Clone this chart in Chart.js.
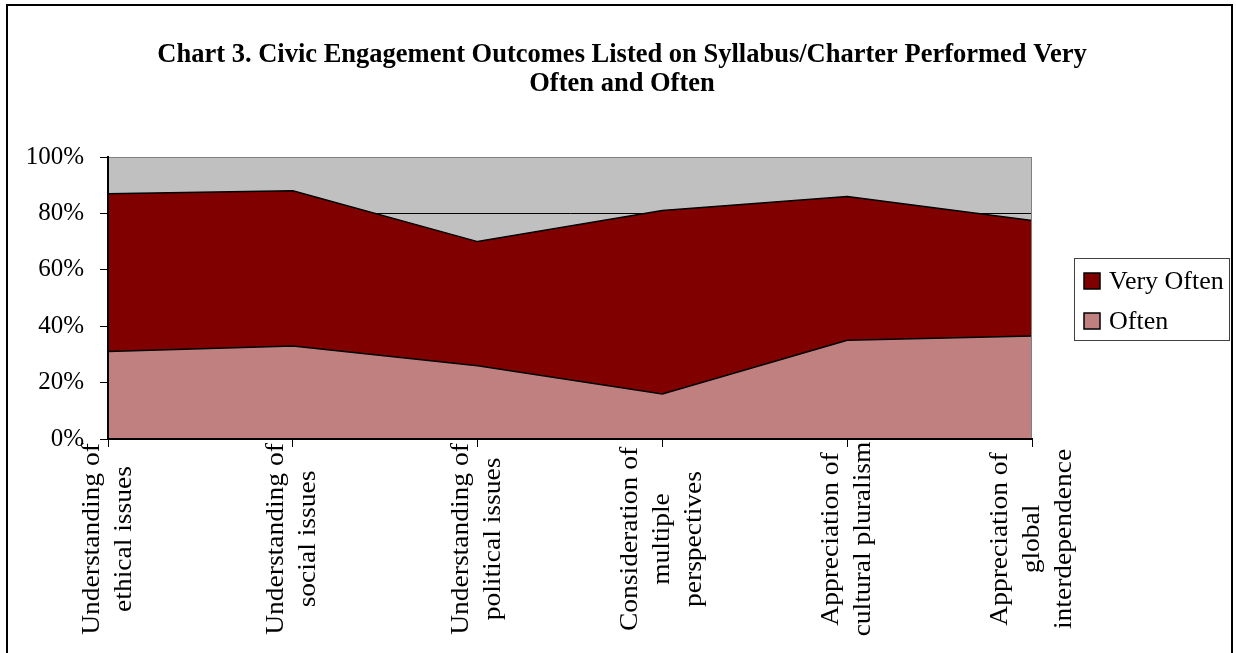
<!DOCTYPE html>
<html>
<head>
<meta charset="utf-8">
<script src="https://cdn.jsdelivr.net/npm/chart.js@4.4.1/dist/chart.umd.min.js"></script>
<style>
  html, body { margin: 0; padding: 0; background: #fff; overflow: hidden; }
  #wrap { width: 1236px; height: 653px; position: relative; }
</style>
</head>
<body>
<div id="wrap"><canvas id="chart"></canvas></div>
<script>
// chart data
const categories = [
    ['Understanding of', 'ethical issues'],
    ['Understanding of', 'social issues'],
    ['Understanding of', 'political issues'],
    ['Consideration of', 'multiple', 'perspectives'],
    ['Appreciation of', 'cultural pluralism'],
    ['Appreciation of', 'global', 'interdependence']
];
const often = [31, 33, 26, 16, 35, 36.5];
const veryOften = [56, 55, 44, 65, 51, 41];
const yTicks = [0, 20, 40, 60, 80, 100];
const titleLines = [
    'Chart 3. Civic Engagement Outcomes Listed on Syllabus/Charter Performed Very',
    'Often and Often'
];

const FONT = '"Liberation Serif", "Times New Roman", serif';

const decor = {
    id: 'decor',
    beforeDraw(chart) {
        const { ctx, chartArea: a } = chart;
        ctx.save();
        ctx.fillStyle = '#fff';
        ctx.fillRect(0, 0, chart.width, chart.height);
        ctx.fillStyle = '#C0C0C0';
        ctx.fillRect(a.left, a.top, a.right - a.left, a.bottom - a.top);
        ctx.restore();
    },
    afterDatasetsDraw(chart) {
        const { ctx, chartArea: a } = chart;
        ctx.save();
        ctx.strokeStyle = '#808080';
        ctx.lineWidth = 1;
        ctx.strokeRect(a.left + 0.5, a.top + 0.5, a.right - a.left - 1, a.bottom - a.top);
        ctx.restore();
    },
    afterDraw(chart) {
        const { ctx } = chart;
        const x = chart.scales.x;
        ctx.save();

        // title
        ctx.fillStyle = '#000';
        ctx.font = 'bold 26.5px ' + FONT;
        ctx.textAlign = 'center';
        ctx.textBaseline = 'middle';
        ctx.fillText(titleLines[0], 622, 55);
        ctx.fillText(titleLines[1], 622, 84);

        // category labels, rotated and centred on their ticks
        ctx.font = '25px ' + FONT;
        const lh = 32;
        categories.forEach((lines, i) => {
            const px = x.getPixelForValue(i);
            ctx.save();
            ctx.translate(px, 539);
            ctx.rotate(-Math.PI / 2);
            ctx.scale(1.1, 1);
            lines.forEach((line, j) => {
                ctx.fillText(line, 0, (j - (lines.length - 1) / 2) * lh);
            });
            ctx.restore();
        });

        // legend, Very Often on top
        const items = chart.data.datasets.slice().reverse();
        ctx.strokeStyle = '#404040';
        ctx.lineWidth = 1;
        ctx.strokeRect(1074.5, 258.5, 155, 82);
        ctx.textAlign = 'left';
        ctx.font = '26px ' + FONT;
        items.forEach((ds, i) => {
            const cy = 281 + i * 40;
            ctx.fillStyle = ds.backgroundColor;
            ctx.fillRect(1084, cy - 8, 16, 16);
            ctx.strokeStyle = '#000';
            ctx.lineWidth = 1.5;
            ctx.strokeRect(1084, cy - 8, 16, 16);
            ctx.fillStyle = '#000';
            ctx.fillText(ds.label, 1109, cy + 1);
        });

        // outer frame
        ctx.strokeStyle = '#000';
        ctx.lineWidth = 2;
        ctx.strokeRect(7, 5, 1225, 700);
        ctx.restore();
    }
};

new Chart(document.getElementById('chart'), {
    type: 'line',
    data: {
        labels: categories,
        datasets: [{
            label: 'Often',
            data: often,
            backgroundColor: '#C08080',
            borderColor: '#000',
            borderWidth: 1.5,
            fill: 'origin',
            pointRadius: 0,
            tension: 0
        }, {
            label: 'Very Often',
            data: veryOften,
            backgroundColor: '#800000',
            borderColor: '#000',
            borderWidth: 1.5,
            fill: '-1',
            pointRadius: 0,
            tension: 0
        }]
    },
    options: {
        responsive: true,
        maintainAspectRatio: false,
        animation: false,
        layout: {
            padding: { left: 0, right: 204, top: 157, bottom: 206 }
        },
        plugins: {
            legend: { display: false },
            title: { display: false },
            tooltip: { enabled: false }
        },
        scales: {
            x: {
                offset: false,
                ticks: { display: false },
                grid: {
                    drawOnChartArea: false,
                    drawTicks: true,
                    tickLength: 8,
                    color: '#000'
                },
                border: { display: true, color: '#000', width: 2, z: 1 }
            },
            y: {
                stacked: true,
                min: 0,
                max: 100,
                afterFit(scale) { scale.width = 108; },
                afterBuildTicks(scale) {
                    scale.ticks = yTicks.map(v => ({ value: v }));
                },
                ticks: {
                    padding: 16,
                    color: '#000',
                    font: { family: FONT, size: 25 },
                    callback: v => v + '%'
                },
                grid: {
                    color: ctx => (ctx.tick && ctx.tick.value === 100) ? '#808080' : '#000',
                    tickColor: '#000',
                    tickLength: 8,
                    lineWidth: 1
                },
                border: { display: true, color: '#000', width: 2, z: 1 }
            }
        }
    },
    plugins: [decor]
});
</script>
</body>
</html>
